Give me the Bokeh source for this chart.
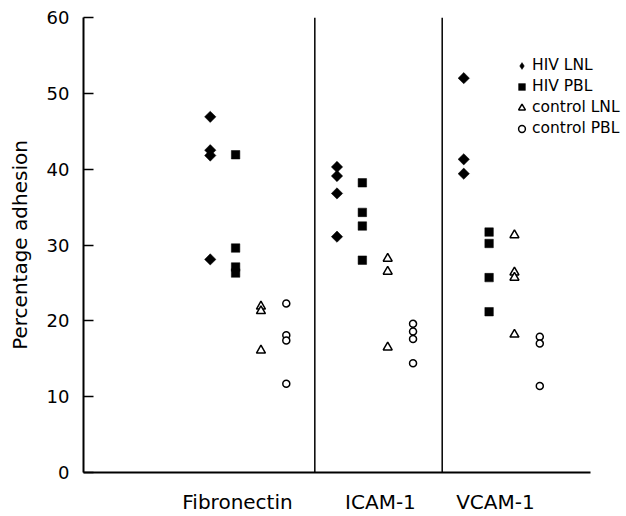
import math
from bokeh.plotting import figure
from bokeh.models import (ColumnDataSource, Range1d, FixedTicker, Legend, LegendItem)
from bokeh.embed import file_html
from bokeh.resources import INLINE

categories = ["Fibronectin", "ICAM-1", "VCAM-1"]
series_names = ["HIV LNL", "HIV PBL", "control LNL", "control PBL"]

hiv_lnl_fib = [46.9, 42.5, 41.8, 28.1]
hiv_lnl_icam = [40.3, 39.1, 36.8, 31.1]
hiv_lnl_vcam = [52.0, 41.3, 39.4]

hiv_pbl_fib = [41.9, 29.6, 27.1, 26.3]
hiv_pbl_icam = [38.2, 34.3, 32.5, 28.0]
hiv_pbl_vcam = [31.7, 30.2, 25.7, 21.2]

control_lnl_fib = [21.9, 21.3, 16.1]
control_lnl_icam = [28.2, 26.5, 16.5]
control_lnl_vcam = [31.3, 26.4, 25.7, 18.2]

control_pbl_fib = [22.3, 18.1, 17.4, 11.7]
control_pbl_icam = [19.6, 18.6, 17.6, 14.4]
control_pbl_vcam = [17.9, 17.0, 11.4]

y_ticks = [0, 10, 20, 30, 40, 50, 60]

series_values = [
    [hiv_lnl_fib, hiv_lnl_icam, hiv_lnl_vcam],
    [hiv_pbl_fib, hiv_pbl_icam, hiv_pbl_vcam],
    [control_lnl_fib, control_lnl_icam, control_lnl_vcam],
    [control_pbl_fib, control_pbl_icam, control_pbl_vcam],
]

FONT = "DejaVu Sans"

# frame: left 83px, top 17px, bottom 44px border; frame reaches right edge so the legend is not clipped
px_per_unit = 126.75
x_end = -1 + (626 - 83) / px_per_unit

p = figure(width=626, height=516, output_backend="svg", toolbar_location=None,
           x_range=Range1d(-1, x_end), y_range=Range1d(0, 60),
           min_border_left=83, min_border_right=0, min_border_top=17, min_border_bottom=44)
p.outline_line_color = None
p.xgrid.visible = False
p.ygrid.visible = False
p.background_fill_color = "white"
p.border_fill_color = "white"

styles = [
    dict(marker="square", size=8, angle=math.pi / 4, fill_color="black", line_color="black", line_width=0.5),
    dict(marker="square", size=8.5, angle=0, fill_color="black", line_color="black", line_width=0.5),
    dict(marker="triangle", size=9, angle=0, fill_color="white", line_color="black", line_width=1.5),
    dict(marker="circle", size=7, angle=0, fill_color="white", line_color="black", line_width=1.5),
]

items = []
for si, (name, vals) in enumerate(zip(series_names, series_values)):
    xs, ys = [], []
    for ci, v in enumerate(vals):
        for val in v:
            xs.append(ci + 0.2 * si)
            ys.append(val)
    src = ColumnDataSource(dict(x=xs, y=ys))
    st = styles[si]
    if si == 0:
        # diamond marker hidden under the rotated squares; used for the legend swatch
        r_leg = p.scatter("x", "y", source=src, marker="diamond", size=9, fill_color="black",
                          line_color="black", line_width=0.5)
        items.append(LegendItem(label=name, renderers=[r_leg]))
    r = p.scatter("x", "y", source=src, marker=st["marker"], size=st["size"], angle=st["angle"],
                  fill_color=st["fill_color"], line_color=st["line_color"], line_width=st["line_width"])
    if si > 0:
        items.append(LegendItem(label=name, renderers=[r]))

# separators between the three substrate groups
sep_x = [0.825, 1.83]
p.segment(x0=sep_x, y0=[0, 0], x1=sep_x, y1=[60, 60], line_color="black", line_width=1.5)

legend = Legend(items=items, location=(430, 334), orientation="vertical",
                padding=0, margin=0, spacing=1, glyph_width=17, glyph_height=17,
                label_height=20, label_width=95, label_standoff=2,
                label_text_font=FONT, label_text_font_size="15.5px", label_text_color="black",
                label_text_baseline="middle",
                border_line_color=None, background_fill_alpha=0)
p.add_layout(legend, "center")

# y axis
p.yaxis.ticker = FixedTicker(ticks=y_ticks)
p.yaxis.axis_line_width = 2
p.yaxis.axis_line_color = "black"
p.yaxis.major_tick_in = 10
p.yaxis.major_tick_out = 0
p.yaxis.major_tick_line_width = 1.5
p.yaxis.major_tick_line_color = "black"
p.yaxis.minor_tick_line_color = None
p.yaxis.major_label_text_font = FONT
p.yaxis.major_label_text_font_size = "18px"
p.yaxis.major_label_text_color = "black"
p.yaxis.major_label_text_baseline = "hanging"
p.yaxis.major_label_standoff = 14
p.yaxis.axis_label = "Percentage adhesion"
p.yaxis.axis_label_text_font = FONT
p.yaxis.axis_label_text_font_size = "20px"
p.yaxis.axis_label_text_font_style = "normal"
p.yaxis.axis_label_text_color = "black"
p.yaxis.axis_label_standoff = 12

# x axis
label_pos = [0.215, 1.343, 2.25]
p.xaxis.ticker = FixedTicker(ticks=label_pos)
p.xaxis.bounds = (-1, 3)
p.xaxis.major_label_overrides = {pos: c for pos, c in zip(label_pos, categories)}
p.xaxis.axis_line_width = 2
p.xaxis.axis_line_color = "black"
p.xaxis.major_tick_line_color = None
p.xaxis.major_tick_in = 0
p.xaxis.major_tick_out = 0
p.xaxis.minor_tick_line_color = None
p.xaxis.major_label_text_font = FONT
p.xaxis.major_label_text_font_size = "20px"
p.xaxis.major_label_text_color = "black"
p.xaxis.major_label_standoff = 17

open("out.html", "w").write(file_html(p, INLINE))
